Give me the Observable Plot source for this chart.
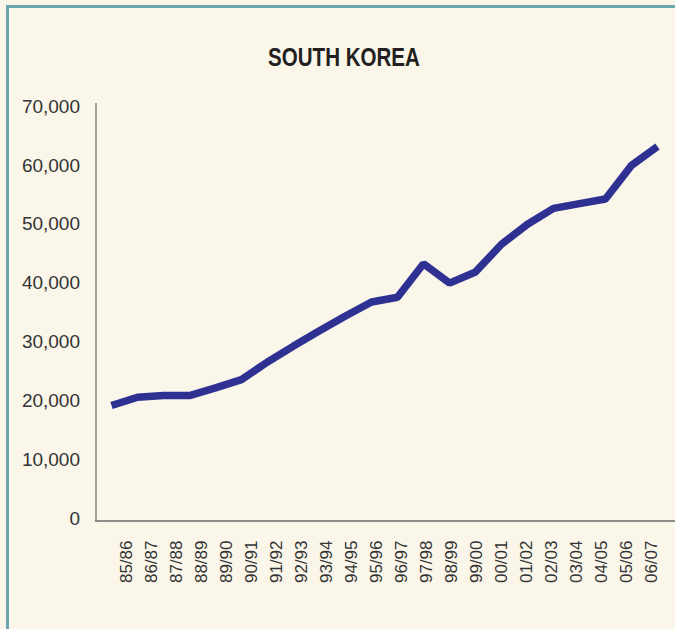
<!DOCTYPE html>
<html>
<head>
<meta charset="utf-8">
<script src="https://cdn.jsdelivr.net/npm/d3@7"></script>
<script src="https://cdn.jsdelivr.net/npm/@observablehq/plot@0.6"></script>
<style>
  html, body { margin: 0; padding: 0; background: #FAF6EA; width: 675px; height: 629px; overflow: hidden; }
  #border { position: absolute; left: 6px; top: 5px; width: 720px; height: 700px;
            border-top: 3px solid #6BA5AE; border-left: 3px solid #6BA5AE; }
  #title { position: absolute; left: 0; top: 43.5px; width: 688px; text-align: center;
           font-family: "Liberation Sans", Arial, sans-serif;
           font-weight: bold; font-size: 26px; line-height: 26px; color: #231F20;
           transform: scaleX(0.79); transform-origin: 50% 50%; }
  #main { position: absolute; left: 0; top: 0; }
  #xlabels { position: absolute; left: 0; top: 521px; }
</style>
</head>
<body>
<div id="border"></div>
<div id="title">SOUTH KOREA</div>
<div id="main"></div>
<div id="xlabels"></div>
<script>
const seasons = ["85/86","86/87","87/88","88/89","89/90","90/91","91/92","92/93","93/94","94/95","95/96",
                 "96/97","97/98","98/99","99/00","00/01","01/02","02/03","03/04","04/05","05/06","06/07"];
const values = [18700, 20100, 20400, 20400, 21700, 23100, 26100, 28800, 31400, 33900, 36300,
                37100, 42800, 39500, 41400, 46100, 49500, 52200, 53000, 53800, 59500, 62700];
const yTicks = [0, 10000, 20000, 30000, 40000, 50000, 60000, 70000];

const data = seasons.map((s, i) => ({season: s, value: values[i]}));
const fmt = d3.format(",");

const main = Plot.plot({
  width: 675,
  height: 530,
  marginTop: 103,
  marginBottom: 9.5,
  marginLeft: 95.5,
  marginRight: 0,
  style: { background: "transparent", overflow: "visible",
           fontFamily: '"Liberation Sans", Arial, sans-serif',
           fontSize: "19px", color: "#333" },
  x: { type: "point", domain: seasons, range: [106.7, 661], padding: 0, axis: null },
  y: { domain: [0, 70000], range: [515.1, 103.1], axis: null },
  marks: [
    Plot.axisY({ ticks: yTicks, label: null, tickSize: 0, tickPadding: 16, tickFormat: fmt,
                 dy: 3, fill: "#333", fontSize: 19 }),
    Plot.frame({ anchor: "left", stroke: "#6b6b6b", strokeWidth: 1.2 }),
    Plot.frame({ anchor: "bottom", stroke: "#6b6b6b", strokeWidth: 1.5 }),
    Plot.line(data, { x: "season", y: "value", stroke: "#2E3192", strokeWidth: 7.5,
                      strokeLinejoin: "miter", strokeLinecap: "butt" })
  ]
});
document.getElementById("main").appendChild(main);

const xl = Plot.plot({
  width: 675,
  height: 100,
  marginTop: 19,
  marginBottom: 0,
  marginLeft: 0,
  marginRight: 0,
  style: { background: "transparent", overflow: "visible",
           fontFamily: '"Liberation Sans", Arial, sans-serif', fontSize: "17px" },
  x: { type: "point", domain: seasons, range: [116, 647], padding: 0, axis: null },
  y: { axis: null },
  marks: [
    Plot.text(seasons, { x: d => d, frameAnchor: "top", rotate: -90, textAnchor: "end",
                         fontSize: 17, fill: "#333" })
  ]
});
document.getElementById("xlabels").appendChild(xl);
</script>
</body>
</html>
